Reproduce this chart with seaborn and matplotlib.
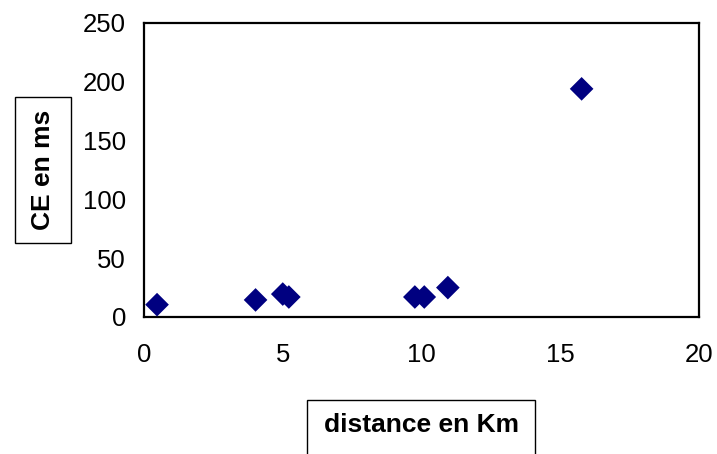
import matplotlib
matplotlib.use("Agg")
import matplotlib.pyplot as plt
import seaborn as sns
import pandas as pd
from matplotlib.patches import Rectangle

distance_km = [0.47, 4.02, 5.0, 5.22, 9.76, 10.1, 10.95, 15.77]
ce_ms = [10.5, 14.5, 19.5, 17.0, 17.0, 17.0, 25.0, 194.0]
x_ticks = [0, 5, 10, 15, 20]
y_ticks = [0, 50, 100, 150, 200, 250]
x_label = "distance en Km"
y_label = "CE en ms"

df = pd.DataFrame({"distance": distance_km, "ce": ce_ms})

sns.set_style("white")
plt.rcParams["font.family"] = ["Liberation Sans", "DejaVu Sans"]
plt.rcParams["text.color"] = "black"

W, H = 717, 454
fig = plt.figure(figsize=(W / 100, H / 100), dpi=100)
left, right, top, bottom = 144, 699, 23, 317
ax = fig.add_axes([left / W, 1 - bottom / H, (right - left) / W, (bottom - top) / H])

sns.scatterplot(data=df, x="distance", y="ce", ax=ax, marker="D", s=145,
                color="#000080", edgecolor="none", linewidth=0, legend=False, zorder=3)

ax.set_xlim(0, 20)
ax.set_ylim(0, 250)
ax.set_xticks(x_ticks)
ax.set_yticks(y_ticks)
ax.set_xticklabels([str(t) for t in x_ticks])
ax.set_yticklabels([str(t) for t in y_ticks])
ax.set_xlabel("")
ax.set_ylabel("")
for s in ax.spines.values():
    s.set_visible(True)
    s.set_color("black")
    s.set_linewidth(1.6)
ax.tick_params(axis="both", direction="out", length=5, width=1, color="#555555",
               labelsize=18.5, labelcolor="black")
ax.tick_params(axis="x", pad=14)
ax.tick_params(axis="y", pad=8)
ax.grid(False)

# y label box
yb = (15, 97, 71, 243)
fig.patches.append(Rectangle((yb[0] / W, 1 - yb[3] / H), (yb[2] - yb[0]) / W, (yb[3] - yb[1]) / H,
                             transform=fig.transFigure, fill=False, edgecolor="black", linewidth=1))
fig.text(43 / W, 1 - 170 / H, y_label, rotation=90, ha="center", va="center",
         fontsize=19, fontweight="bold", color="black")

# x label box
xb = (307, 400, 535, 470)
fig.patches.append(Rectangle((xb[0] / W, 1 - xb[3] / H), (xb[2] - xb[0]) / W, (xb[3] - xb[1]) / H,
                             transform=fig.transFigure, fill=False, edgecolor="black", linewidth=1,
                             clip_on=False))
fig.text(421 / W, 1 - 425 / H, x_label, ha="center", va="center",
         fontsize=19, fontweight="bold", color="black")

fig.savefig("out.png", dpi=100)
